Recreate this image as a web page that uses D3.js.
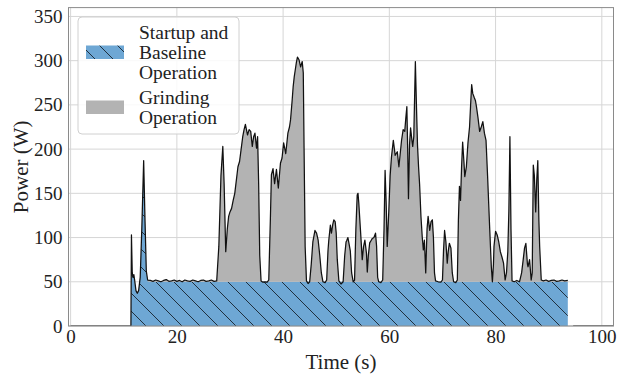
<!DOCTYPE html>
<html>
<head>
<meta charset="utf-8">
<script src="https://cdn.jsdelivr.net/npm/d3@7"></script>
<style>
  html, body { margin: 0; padding: 0; background: #fff; }
  svg { display: block; }
  text { font-family: "Liberation Serif", "DejaVu Serif", serif; fill: #222; }
</style>
</head>
<body>
<svg id="chart" width="617" height="379"></svg>
<script>
// Measured grinder power trace (time in s, power in W) during one run.
const traceTime = [
  0, 11.35, 11.45, 11.6, 11.75, 11.9, 12.05, 12.3, 12.55, 12.8, 13.1, 13.4, 13.75, 14.0, 14.25, 14.5,
  15.0, 15.5, 16.0, 16.5, 17.0, 17.5, 18.0, 18.5, 19.0, 19.5, 20.0, 20.5, 21.0, 21.5, 22.0, 22.5,
  23.0, 23.5, 24.0, 24.5, 25.0, 25.5, 26.0, 26.5, 27.0, 27.5,
  27.9, 28.3, 28.65, 28.9, 29.2, 29.5, 29.75, 30.0, 30.3, 30.6, 30.9, 31.2, 31.5, 31.8, 32.1, 32.4,
  32.65, 32.9, 33.1, 33.3, 33.6, 33.9, 34.2, 34.45, 34.7, 35.0, 35.2, 35.4, 35.6, 35.85, 36.2, 36.6,
  37.0, 37.3,
  37.6, 37.8, 38.1, 38.4, 38.75, 39.1, 39.5, 39.8, 40.1, 40.5, 40.9, 41.2, 41.4, 41.7, 41.9, 42.1,
  42.3, 42.5, 42.7, 43.0, 43.3, 43.6, 43.8, 43.95, 44.15, 44.4, 44.7, 45.0,
  45.3, 45.6, 46.0, 46.3, 46.6, 46.9, 47.2, 47.5, 47.9, 48.2,
  48.45, 48.6, 48.9, 49.1, 49.35, 49.55, 49.8, 50.0, 50.2, 50.5, 50.9, 51.3,
  51.6, 51.85, 52.0, 52.2, 52.4, 52.65, 52.9, 53.2, 53.45,
  53.7, 53.95, 54.1, 54.25, 54.6, 54.9, 55.15, 55.4, 55.7, 55.85, 56.05, 56.3, 56.6, 56.8, 57.1,
  57.4, 57.6, 57.8, 58.0, 58.4, 58.75,
  59.0, 59.2, 59.4, 59.6, 59.9, 60.15, 60.4, 60.75, 61.1, 61.5, 61.8, 62.05, 62.3, 62.6, 62.9, 63.1,
  63.3, 63.45, 63.6, 63.8, 64.0, 64.25, 64.4, 64.6, 64.9, 65.1, 65.3, 65.5, 65.7, 65.95, 66.2, 66.4,
  66.6, 66.85, 67.1, 67.3, 67.6, 67.85, 68.1, 68.3, 68.5, 68.7, 69.2, 69.7, 70.0,
  70.2, 70.4, 70.65, 70.9, 71.1, 71.3, 71.6, 71.85, 72.1, 72.5, 72.8,
  73.0, 73.2, 73.4, 73.6, 73.8, 74.05, 74.2, 74.5, 74.8, 75.1, 75.3, 75.5, 75.7, 76.0, 76.2, 76.4,
  76.7, 77.0, 77.3, 77.6, 77.9, 78.2, 78.5, 78.9, 79.2, 79.4,
  79.6, 79.7, 80.0, 80.3, 80.6, 80.9, 81.2, 81.5, 81.8, 82.05, 82.3, 82.5, 82.7, 82.9, 83.1, 83.5,
  84.0, 84.5,
  84.9, 85.2, 85.45, 85.7, 86.0, 86.1, 86.4, 86.7, 86.9,
  87.1, 87.3, 87.55, 87.75, 87.95, 88.15, 88.3, 88.6,
  89.0, 89.5, 90.0, 90.5, 91.0, 91.5, 92.0, 92.5, 93.0, 93.6
];
const tracePower = [
  0, 0, 103, 60, 55, 58, 52, 40, 37, 40, 55, 110, 187, 120, 62, 52,
  51.5, 50.5, 52, 51, 50, 51.5, 52.5, 50.5, 51, 52, 50.5, 51.5, 50, 52, 51, 50.5,
  52, 51, 50, 51.5, 52, 50.5, 51, 52, 50.5, 51,
  90, 170, 203, 160, 84, 110, 124, 129, 133, 142, 150, 165, 180, 186, 200, 214,
  222, 228, 222, 216, 222, 220, 203, 214, 218, 201, 214, 160, 80, 51, 49.5, 50,
  49.5, 52,
  120, 171, 178, 161, 177, 156, 184, 190, 207, 195, 218, 225, 233, 255, 271, 282,
  290, 298, 304, 301, 293, 299, 286, 200, 90, 51, 48, 50,
  70, 95, 108, 105, 97, 80, 60, 50, 49, 52,
  85, 97, 114, 105, 115, 120, 118, 105, 75, 51, 47.5, 50,
  80, 95, 97, 100, 93.5, 85, 60, 50, 52,
  110, 148, 150, 139, 105, 75, 90, 97, 82, 61, 80, 94, 97, 99, 100,
  105, 90, 55, 50, 49, 52,
  110, 176, 140, 90, 130, 170, 191, 210, 193, 197, 180, 195, 210, 222, 220, 235,
  248, 200, 144, 205, 224, 210, 203, 214, 299, 250, 205, 180, 160, 124, 100, 86,
  97, 60, 110, 124, 108, 118, 120, 100, 60, 51, 50, 49.5, 52,
  85, 108, 95, 71, 85, 93.5, 88, 60, 50, 49, 52,
  120, 158, 142, 180, 208, 185, 169, 180, 207, 225, 250, 273, 263, 258, 255, 248,
  235, 220, 225, 231, 218, 210, 169, 109, 67, 50,
  70, 90, 107, 103, 95, 84, 78, 71, 52, 60, 84, 130, 214, 110, 51, 50,
  51.5, 50,
  60, 75, 88, 93.5, 70, 67, 75, 52, 60,
  182, 170, 129, 165, 187, 120, 90, 52,
  51, 52, 50.5, 51.5, 52, 50.5, 51, 52, 51, 51.5
];
// Meter reading after the grinder is switched off.
const idleTime = [94.6, 102.5];
const idlePower = [0, 0];

// Phase boundaries and the baseline power draw.
const runStart = 11.35;
const startupEnd = 14.5;
const runEnd = 93.6;
const baselineW = 50;

const xTicks = [0, 20, 40, 60, 80, 100];
const yTicks = [0, 50, 100, 150, 200, 250, 300, 350];
const legendItems = [
  { lines: ["Startup and", "Baseline", "Operation"], kind: "base" },
  { lines: ["Grinding", "Operation"], kind: "grind" }
];

const blue = "#6ea7d4";
const grey = "#b3b3b3";

const svg = d3.select("#chart");
const plotL = 68.5, plotR = 613.5, plotT = 7.6, plotB = 326;

const x = d3.scaleLinear().domain([-0.4, 102.2]).range([plotL, plotR]);
const y = d3.scaleLinear().domain([0, 360]).range([plotB, plotT]);

const trace = traceTime.map((t, i) => ({ t, p: tracePower[i] }));
const idle = idleTime.map((t, i) => ({ t, p: idlePower[i] }));

const defs = svg.append("defs");
defs.append("clipPath").attr("id", "plotClip")
  .append("rect").attr("x", plotL).attr("y", plotT)
  .attr("width", plotR - plotL).attr("height", plotB - plotT);

const hs = 18;
const hatch = defs.append("pattern").attr("id", "hatch")
  .attr("patternUnits", "userSpaceOnUse")
  .attr("width", hs).attr("height", hs);
hatch.append("rect").attr("width", hs).attr("height", hs).attr("fill", blue);
hatch.append("path")
  .attr("d", `M0,0L${hs},${hs}M${-2},${hs - 2}L2,${hs + 2}M${hs - 2},-2L${hs + 2},2`)
  .attr("stroke", "#17222c").attr("stroke-width", 0.9).attr("fill", "none");

// Grid
const grid = svg.append("g");
grid.selectAll(".gx").data(xTicks).join("line")
  .attr("x1", d => x(d)).attr("x2", d => x(d))
  .attr("y1", plotT).attr("y2", plotB)
  .attr("stroke", "#d6d6d6").attr("stroke-width", 1);
grid.selectAll(".gy").data(yTicks).join("line")
  .attr("x1", plotL).attr("x2", plotR)
  .attr("y1", d => y(d)).attr("y2", d => y(d))
  .attr("stroke", "#d6d6d6").attr("stroke-width", 1);

const plot = svg.append("g").attr("clip-path", "url(#plotClip)");

// Startup + baseline area (hatched blue)
const runPts = trace.filter(d => d.t >= runStart && d.t <= runEnd);
const baseArea = d3.area()
  .x(d => x(d.t))
  .y0(y(0))
  .y1(d => y(d.t <= startupEnd ? d.p : baselineW));
plot.append("path").datum(runPts)
  .attr("d", baseArea)
  .attr("fill", "url(#hatch)");

// Grinding area (grey), above the baseline
const grindPts = trace.filter(d => d.t >= startupEnd && d.t <= runEnd);
const grindArea = d3.area()
  .x(d => x(d.t))
  .y0(y(baselineW))
  .y1(d => y(Math.max(d.p, baselineW)));
plot.append("path").datum(grindPts)
  .attr("d", grindArea)
  .attr("fill", grey);

// Power trace
const line = d3.line().x(d => x(d.t)).y(d => y(d.p));
[trace, idle].forEach(seg => {
  plot.append("path").datum(seg)
    .attr("d", line)
    .attr("fill", "none")
    .attr("stroke", "#111")
    .attr("stroke-width", 1.25)
    .attr("stroke-linejoin", "round");
});

// Spines
svg.append("rect")
  .attr("x", plotL).attr("y", plotT)
  .attr("width", plotR - plotL).attr("height", plotB - plotT)
  .attr("fill", "none").attr("stroke", "#8a8a8a").attr("stroke-width", 1);

// Axes
const xAxis = svg.append("g").attr("transform", `translate(0,${plotB})`)
  .call(d3.axisBottom(x).tickValues(xTicks).tickSize(0).tickPadding(4).tickFormat(d3.format("d")));
const yAxis = svg.append("g").attr("transform", `translate(${plotL},0)`)
  .call(d3.axisLeft(y).tickValues(yTicks).tickSize(0).tickPadding(6).tickFormat(d3.format("d")));
[xAxis, yAxis].forEach(a => {
  a.select(".domain").remove();
  a.selectAll("text").attr("font-size", 19)
    .attr("font-family", '"Liberation Serif", serif').attr("fill", "#222");
});

svg.append("text")
  .attr("x", (plotL + plotR) / 2).attr("y", 369)
  .attr("text-anchor", "middle").attr("font-size", 21)
  .text("Time (s)");
svg.append("text")
  .attr("transform", `translate(28,${(plotT + plotB) / 2}) rotate(-90)`)
  .attr("text-anchor", "middle").attr("font-size", 21)
  .text("Power (W)");

// Legend
const lg = svg.append("g");
lg.append("rect")
  .attr("x", 78).attr("y", 17).attr("width", 161).attr("height", 117)
  .attr("rx", 4).attr("fill", "#fff").attr("fill-opacity", 0.85)
  .attr("stroke", "#d0d0d0").attr("stroke-width", 1);
let rowY = 32;
legendItems.forEach(item => {
  const n = item.lines.length;
  const mid = rowY + (n - 1) * 10;
  lg.append("rect")
    .attr("x", 86).attr("y", mid - 6.5).attr("width", 38).attr("height", 13.5)
    .attr("fill", item.kind === "base" ? "url(#hatch)" : grey);
  item.lines.forEach((s, i) => {
    lg.append("text")
      .attr("x", 139).attr("y", rowY + i * 20).attr("dy", "0.35em")
      .attr("font-size", 19.5).text(s);
  });
  rowY += n * 20 + 5;
});
</script>
</body>
</html>
